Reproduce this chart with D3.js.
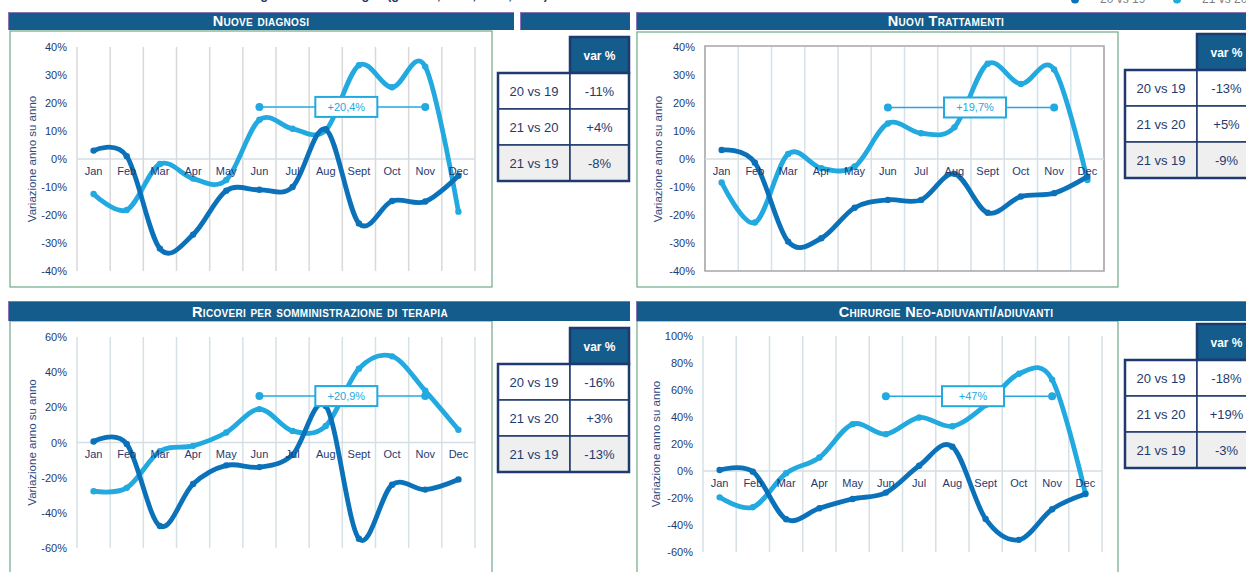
<!DOCTYPE html>
<html>
<head>
<meta charset="utf-8">
<script src="https://cdn.jsdelivr.net/npm/d3@7"></script>
<style>
  body { margin: 0; background: #fff; }
  svg { display: block; font-family: "Liberation Sans", Arial, sans-serif; }
</style>
</head>
<body>
<div id="wrapper"></div>
<script>
// months + series
const months = ["Jan", "Feb", "Mar", "Apr", "May", "Jun", "Jul", "Aug", "Sept", "Oct", "Nov", "Dec"];
const seriesNames = ["20 vs 19", "21 vs 20"];

// values (% change year on year)
const diagnosi20v19 = [3, 1, -32, -27, -11.3, -11, -10, 10.6, -23, -15, -15.2, -6];
const diagnosi21v20 = [-12.5, -18.2, -1.8, -7, -7.5, 14, 10.8, 10.3, 33.5, 25.6, 33, -18.8];
const trattamenti20v19 = [3.2, -1.3, -29.5, -28.3, -17.4, -14.6, -14.6, -5.3, -19.2, -13.4, -12.2, -6.3];
const trattamenti21v20 = [-8.4, -22.7, 1.8, -3.3, -2.7, 12.7, 9.2, 11.3, 34, 26.8, 32, -7.5];
const ricoveri20v19 = [0.6, -0.8, -47.5, -23.6, -13, -14, -7, 20.8, -54.7, -24, -26.8, -21];
const ricoveri21v20 = [-27.7, -25.8, -5, -1.9, 5.7, 19, 6.6, 9.4, 42, 49, 29.4, 7.2];
const chirurgie20v19 = [0.7, -0.5, -35.7, -27.6, -20.7, -16, 3.9, 18, -35.5, -51, -28.3, -17];
const chirurgie21v20 = [-19.5, -26.8, -1.7, 10, 34.7, 27.3, 39.6, 33.2, 48.8, 72, 67.7, -16.5];

// tick values
const ticks40 = [-40, -30, -20, -10, 0, 10, 20, 30, 40];
const ticks60 = [-60, -40, -20, 0, 20, 40, 60];
const ticks100 = [-60, -40, -20, 0, 20, 40, 60, 80, 100];

// summary tables
const tableRows = ["20 vs 19", "21 vs 20", "21 vs 19"];
const diagnosiVar = ["-11%", "+4%", "-8%"];
const trattamentiVar = ["-13%", "+5%", "-9%"];
const ricoveriVar = ["-16%", "+3%", "-13%"];
const chirurgieVar = ["-18%", "+19%", "-3%"];

// Jun-Nov average annotations
const annLabels = ["+20,4%", "+19,7%", "+20,9%", "+47%"];
const annLevels = [18.6, 18.4, 26.4, 55.4];

const titles = ["Nuove diagnosi", "Nuovi Trattamenti", "Ricoveri per somministrazione di terapia", "Chirurgie Neo-adiuvanti/adiuvanti"];

const darkBlue = "#0b72ba", lightBlue = "#22a9e0", navy = "#1f3a6e", barBlue = "#135c8c";

var svg = d3.select("#wrapper").append("svg").attr("width", 1246).attr("height", 572);

// layout of the 4 panels
const panels = [
  {title: titles[0], tx: 261, bars: [[8, 514], [520, 630]], barY: [12, 30], box: [10, 31, 492, 287],
   px: [77, 475], py: [47, 271], dom: [-40, 40], ticks: ticks40, s: [diagnosi20v19, diagnosi21v20],
   tickX: 67, titleX: 32, table: [498, 37], tv: diagnosiVar, border: false, grid: "#d9d9d9"},
  {title: titles[1], tx: 946, bars: [[636, 1250]], barY: [12, 30], box: [637, 32, 1118, 287],
   px: [705, 1104], py: [47, 271], dom: [-40, 40], ticks: ticks40, s: [trattamenti20v19, trattamenti21v20],
   tickX: 695, titleX: 658, table: [1125, 34], tv: trattamentiVar, border: true, grid: "#d6e1e8"},
  {title: titles[2], tx: 320, bars: [[8, 630]], barY: [301, 321], box: [10, 321, 492, 600],
   px: [77, 475], py: [337, 548], dom: [-60, 60], ticks: ticks60, s: [ricoveri20v19, ricoveri21v20],
   tickX: 67, titleX: 32, table: [498, 328], tv: ricoveriVar, border: false, grid: "#d6e1e6"},
  {title: titles[3], tx: 946, bars: [[636, 1250]], barY: [301, 321], box: [637, 321, 1118, 600],
   px: [703, 1102], py: [336, 552], dom: [-60, 100], ticks: ticks100, s: [chirurgie20v19, chirurgie21v20],
   tickX: 693, titleX: 656, table: [1125, 324], tv: chirurgieVar, border: false, grid: "#d6e1e6"}
];

// page heading + legend, cut off by the top edge as in the source slide
svg.append("text").attr("x", 120).attr("y", -1).attr("fill", navy).style("font-size", "15px").style("font-weight", "bold")
  .attr("textLength", 520).attr("lengthAdjust", "spacingAndGlyphs")
  .text("Andamento mensile degli eventi oncologici (gen-dic, 2019, 2020, 2021) – variazione %");
seriesNames.forEach(function(n, i) {
  var lx = i === 0 ? 1075 : 1177;
  svg.append("circle").attr("cx", lx).attr("cy", -0.5).attr("r", 4).attr("fill", i === 0 ? darkBlue : lightBlue);
  svg.append("text").attr("x", lx + 25).attr("y", 2.5).attr("fill", "#7f7f7f").style("font-size", "12px").text(n);
});

panels.forEach(function(p, pi) {
  var g = svg.append("g");

  // green frame
  g.append("rect").attr("x", p.box[0]).attr("y", p.box[1]).attr("width", p.box[2] - p.box[0]).attr("height", p.box[3] - p.box[1])
    .attr("fill", "none").attr("stroke", "#6fa987").attr("stroke-width", 1.2);

  // title bar
  p.bars.forEach(function(b) {
    g.append("rect").attr("x", b[0]).attr("y", p.barY[0]).attr("width", b[1] - b[0]).attr("height", p.barY[1] - p.barY[0])
      .attr("fill", barBlue);
    g.append("line").attr("x1", b[0]).attr("x2", b[1]).attr("y1", p.barY[0] + 0.5).attr("y2", p.barY[0] + 0.5)
      .attr("stroke", "#8a72b4").attr("stroke-width", 1);
    g.append("line").attr("x1", b[0] + 0.5).attr("x2", b[0] + 0.5).attr("y1", p.barY[0]).attr("y2", p.barY[1])
      .attr("stroke", "#8a72b4").attr("stroke-width", 1);
  });
  g.append("text").attr("x", p.tx).attr("y", p.barY[1] - 4.5).attr("text-anchor", "middle").attr("fill", "#fff")
    .style("font-size", "14.5px").style("font-weight", "bold").style("font-variant", "small-caps").style("letter-spacing", "0.3px")
    .text(p.title);

  var x = d3.scaleBand().domain(months).range(p.px);
  var y = d3.scaleLinear().domain(p.dom).range([p.py[1], p.py[0]]);

  // vertical gridlines at band edges
  var edges = d3.range(months.length + 1).map(function(i) { return p.px[0] + i * x.step(); });
  g.selectAll(".vg").data(edges).enter().append("line")
    .attr("x1", function(d) { return d; }).attr("x2", function(d) { return d; })
    .attr("y1", y(p.dom[1])).attr("y2", y(p.dom[0]))
    .attr("stroke", p.grid).attr("stroke-width", 1.5);
  if (p.border) {
    g.append("rect").attr("x", p.px[0]).attr("y", p.py[0] - 1).attr("width", p.px[1] - p.px[0]).attr("height", p.py[1] - p.py[0] + 1)
      .attr("fill", "none").attr("stroke", "#a6a6a6").attr("stroke-width", 1.5);
  }
  // zero line
  g.append("line").attr("x1", p.px[0]).attr("x2", p.px[1]).attr("y1", y(0)).attr("y2", y(0))
    .attr("stroke", "#d3dee6").attr("stroke-width", 1.5);

  // y axis
  var yAxis = g.append("g").attr("transform", "translate(" + p.tickX + ",0)")
    .call(d3.axisLeft(y).tickValues(p.ticks).tickSize(0).tickPadding(0).tickFormat(function(d) { return d + "%"; }));
  yAxis.select(".domain").remove();
  yAxis.selectAll("text").attr("fill", navy).style("font-size", "11px").style("font-family", "Liberation Sans, Arial, sans-serif");

  g.append("text").attr("transform", "translate(" + (p.titleX + 4) + "," + ((p.py[0] + p.py[1]) / 2) + ") rotate(-90)")
    .attr("text-anchor", "middle").attr("fill", "#2f4b80").style("font-size", "11.5px").text("Variazione anno su anno");

  // lines
  var line = d3.line().x(function(d, i) { return x(months[i]) + x.bandwidth() / 2; }).y(function(d) { return y(d); })
    .curve(d3.curveCardinal.tension(0));
  var colors = [darkBlue, lightBlue];
  [1, 0].forEach(function(si) {
    g.append("path").datum(p.s[si]).attr("d", line).attr("fill", "none").attr("stroke", colors[si])
      .attr("stroke-width", 4.8).attr("stroke-linecap", "round").attr("stroke-linejoin", "round");
    g.selectAll(".dot" + si).data(p.s[si]).enter().append("circle")
      .attr("cx", function(d, i) { return x(months[i]) + x.bandwidth() / 2; })
      .attr("cy", function(d) { return y(d); })
      .attr("r", 3.2).attr("fill", colors[si]);
  });

  // month labels just under the zero line
  var xAxis = g.append("g").attr("transform", "translate(0," + y(0) + ")")
    .call(d3.axisBottom(x).tickSize(0).tickPadding(8));
  xAxis.select(".domain").remove();
  xAxis.selectAll("text").attr("fill", navy).style("font-size", "11px").style("font-family", "Liberation Sans, Arial, sans-serif");

  // annotation Jun -> Nov
  var ax1 = x("Jun") + x.bandwidth() / 2, ax2 = x("Nov") + x.bandwidth() / 2, ay = y(annLevels[pi]);
  g.append("line").attr("x1", ax1).attr("x2", ax2).attr("y1", ay).attr("y2", ay).attr("stroke", lightBlue).attr("stroke-width", 1.5);
  [ax1, ax2].forEach(function(cx) {
    g.append("circle").attr("cx", cx).attr("cy", ay).attr("r", 4).attr("fill", lightBlue);
  });
  var bx = (ax1 + ax2) / 2 + 4;
  g.append("rect").attr("x", bx - 31).attr("y", ay - 10).attr("width", 62).attr("height", 20)
    .attr("fill", "#fff").attr("stroke", lightBlue).attr("stroke-width", 2);
  g.append("text").attr("x", bx).attr("y", ay + 4).attr("text-anchor", "middle").attr("fill", lightBlue)
    .style("font-size", "11px").text(annLabels[pi]);

  // table
  var t0 = p.table[0], t1 = p.table[1], cw1 = 72, cw2 = 59, rh = 36;
  var tg = g.append("g");
  tg.append("rect").attr("x", t0 + cw1).attr("y", t1).attr("width", cw2).attr("height", rh)
    .attr("fill", barBlue).attr("stroke", navy).attr("stroke-width", 2.5);
  tg.append("text").attr("x", t0 + cw1 + cw2 / 2).attr("y", t1 + rh / 2 + 4.5).attr("text-anchor", "middle")
    .attr("fill", "#fff").style("font-size", "12px").style("font-weight", "bold").text("var %");
  tableRows.forEach(function(r, ri) {
    var ry = t1 + rh * (ri + 1);
    var fill = ri === 2 ? "#efefef" : "#fff";
    tg.append("rect").attr("x", t0).attr("y", ry).attr("width", cw1).attr("height", rh).attr("fill", fill)
      .attr("stroke", navy).attr("stroke-width", 1.5);
    tg.append("rect").attr("x", t0 + cw1).attr("y", ry).attr("width", cw2).attr("height", rh).attr("fill", fill)
      .attr("stroke", navy).attr("stroke-width", 1.5);
    tg.append("text").attr("x", t0 + cw1 / 2).attr("y", ry + rh / 2 + 4.5).attr("text-anchor", "middle")
      .attr("fill", navy).style("font-size", "13px").text(r);
    tg.append("text").attr("x", t0 + cw1 + cw2 / 2).attr("y", ry + rh / 2 + 4.5).attr("text-anchor", "middle")
      .attr("fill", navy).style("font-size", "13px").text(p.tv[ri]);
  });
  tg.append("rect").attr("x", t0).attr("y", t1 + rh).attr("width", cw1 + cw2).attr("height", rh * 3)
    .attr("fill", "none").attr("stroke", navy).attr("stroke-width", 2.5);
});
</script>
</body>
</html>
